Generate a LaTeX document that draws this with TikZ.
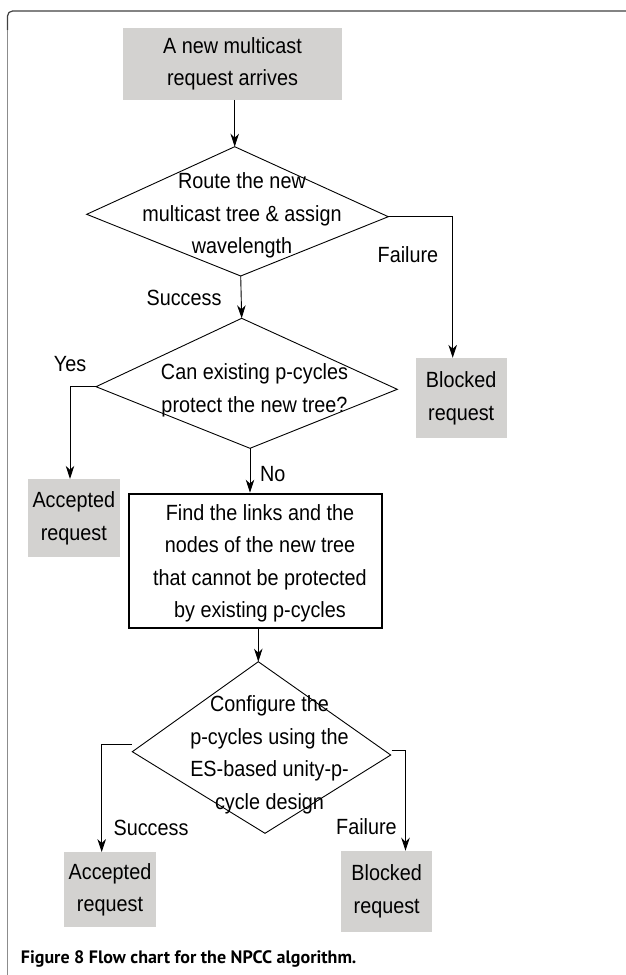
\documentclass[tikz,border=0pt]{standalone}
\usepackage{fontspec}
\setmainfont{Liberation Sans}
\newfontfamily\diagfont[FakeStretch=0.9]{Liberation Sans}
\newfontfamily\capfont{PT Sans}
\usetikzlibrary{arrows.meta}
\definecolor{boxgray}{RGB}{211,210,208}
\begin{document}
\begin{tikzpicture}[x=1pt,y=-1pt,
  every node/.style={font=\diagfont\fontsize{22}{32.5}\selectfont, inner sep=0pt},
  graybox/.style={fill=boxgray, align=center},
  txt/.style={align=center},
  lbl/.style={anchor=base},
  shapeline/.style={line width=0.9pt},
  arr/.style={-{Stealth[length=13pt,width=8.5pt,inset=4pt]}, line width=0.9pt},
  topframe/.style={draw=black!75, line width=1.2pt},
  leftframe/.style={draw=black!45, line width=1.2pt}
]
\useasboundingbox (0,0) rectangle (626,975);
% frame
\draw[topframe, rounded corners=5pt] (7.5,30) -- (7.5,11) -- (626,11);
\draw[leftframe] (7.5,30) -- (7.5,975);

% diamond vertices
\coordinate (d1t) at (234.7,146.7);
\coordinate (d1l) at (86.7,214.3);
\coordinate (d1r) at (388.3,216.7);
\coordinate (d1b) at (240.7,276);
\coordinate (d2t) at (241.7,318.3);
\coordinate (d2l) at (96,386.7);
\coordinate (d2r) at (397.3,389.3);
\coordinate (d2b) at (250,448.3);
\coordinate (d3t) at (258.3,661.7);
\coordinate (d3l) at (132.3,751.7);
\coordinate (d3r) at (390.7,755);
\coordinate (d3b) at (265,833.3);

\draw[shapeline] (d1t) -- (d1r) -- (d1b) -- (d1l) -- cycle;
\draw[shapeline] (d2t) -- (d2r) -- (d2b) -- (d2l) -- cycle;
\draw[shapeline] (d3t) -- (d3r) -- (d3b) -- (d3l) -- cycle;

% boxes
\node[graybox, minimum width=219.6pt, minimum height=71.7pt] (start) at (232.5,63.8) {A new multicast\\request arrives};
\node[graybox, minimum width=91pt, minimum height=80.3pt] (blk1) at (461.2,398.2) {Blocked\\request};
\node[graybox, minimum width=92.3pt, minimum height=78.3pt] (acc1) at (73.8,518.2) {Accepted\\request};
\node[graybox, minimum width=91.4pt, minimum height=75pt] (acc2) at (110,889.8) {Accepted\\request};
\node[graybox, minimum width=90.7pt, minimum height=80.7pt] (blk2) at (386.7,891.3) {Blocked\\request};
\node[draw, line width=2pt, minimum width=253pt, minimum height=134.3pt] (rect) at (255.8,560.8) {};
\node[txt] (rectt) at (260,563.3) {Find the links and the\\nodes of the new tree\\that cannot be protected\\by existing p-cycles};

% diamond texts
\node[txt] (q1) at (242,215.8) {Route the new\\multicast tree \& assign\\wavelength};
\node[txt] (q2) at (254.5,390.5) {Can existing p-cycles\\protect the new tree?};
\node[txt] (q3) at (269.5,755) {Configure the\\p-cycles using the\\ES-based unity-p-\\cycle design};

% bends
\coordinate (f1) at (452.7,216.7);
\coordinate (y1) at (70,386.7);
\coordinate (s3) at (131.7,744.3);
\coordinate (s3c) at (101.7,744.3);
\coordinate (r3) at (391.7,750);
\coordinate (f3) at (405.5,750);

% connectors
\draw[arr] (d1t |- start.south) -- (d1t);
\draw[arr] (d1b) -- (d2t);
\draw[arr] (d1r) -- (f1) -- (f1 |- blk1.north);
\draw[arr] (d2l) -- (y1) -- (y1 |- acc1.north);
\draw[arr] (d2b) -- (d2b |- rect.north);
\draw[arr] (d3t |- rect.south) -- (d3t);
\draw[arr] (s3) -- (s3c) -- (s3c |- acc2.north);
\draw[arr] (r3) -- (f3) -- (f3 |- blk2.north);

% labels
\node[lbl] (lf1) at (408,262.3) {Failure};
\node[lbl] (ls1) at (184,305) {Success};
\node[lbl] (ly) at (70,371) {Yes};
\node[lbl] (ln) at (272.7,481) {No};
\node[lbl] (ls2) at (151,835.3) {Success};
\node[lbl] (lf2) at (366.5,834.3) {Failure};

% caption
\node[anchor=base west, font=\capfont\bfseries\fontsize{18}{20}\selectfont] (cap) at (20.7,963) {Figure 8 Flow chart for the NPCC algorithm.};
\end{tikzpicture}
\end{document}
